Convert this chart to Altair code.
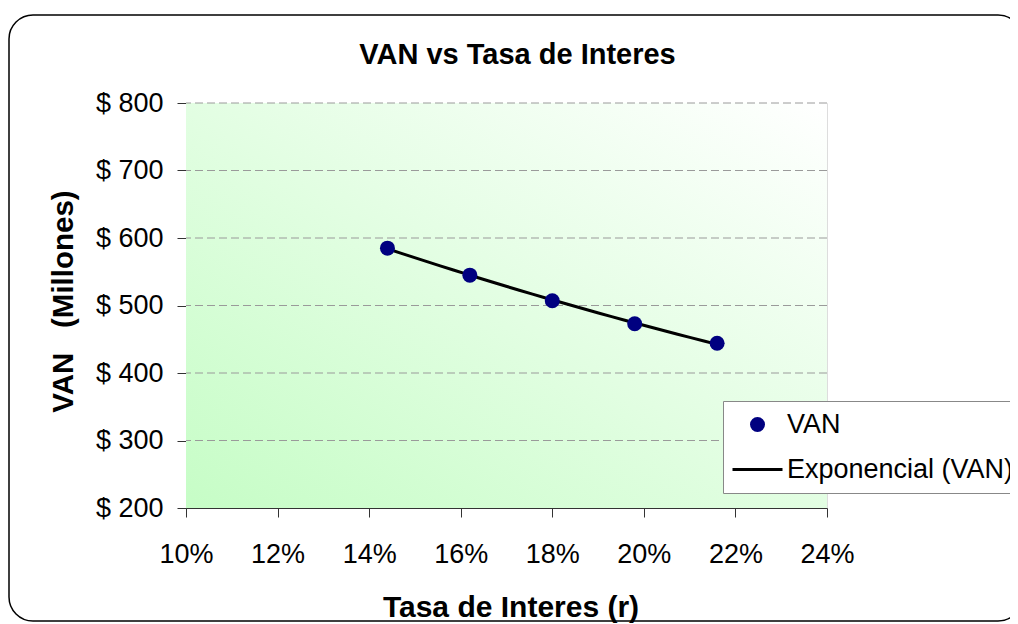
import altair as alt
import pandas as pd

# ---- data ----
tasa = [0.144, 0.162, 0.180, 0.198, 0.216]
van = [585, 545, 507, 473, 444]
x_ticks = [0.10, 0.12, 0.14, 0.16, 0.18, 0.20, 0.22, 0.24]
y_ticks = [200, 300, 400, 500, 600, 700, 800]
grid_vals = [300, 400, 500, 600, 700, 800]
series = ["VAN", "Exponencial (VAN)"]

W, H = 641, 405
FONT = "Liberation Sans"
NB = "\u00a0"

df = pd.DataFrame({"tasa": tasa, "van": van, "serie": [series[0]] * len(tasa)})
grid_df = pd.DataFrame({"v": grid_vals})
one = pd.DataFrame({"k": [0]})

xs = alt.Scale(domain=[0.10, 0.24], nice=False, zero=False)
ys = alt.Scale(domain=[200, 800], nice=False, zero=False)

x_axis = alt.Axis(
    values=x_ticks, format=".0%", labelFontSize=27, labelFont=FONT, labelColor="black",
    labelPadding=24, tickSize=9, tickColor="#333333", domainColor="#333333",
    labelFlush=False, labelOverlap=False, grid=False,
    title="Tasa de Interes (r)", titleFontSize=30, titleFont=FONT, titleFontWeight="bold",
    titleColor="black", titleBaseline="alphabetic", titleY=108, titleX=W / 2 + 4,
)
y_axis = alt.Axis(
    values=y_ticks, labelExpr="'$ ' + datum.value", labelFontSize=27, labelFont=FONT,
    labelColor="black", labelPadding=14, tickSize=9, tickColor="#333333",
    domainColor="#333333", grid=False, labelOverlap=False,
    title="VAN" + NB * 3 + "(Millones)", titleFontSize=29.5, titleFont=FONT,
    titleFontWeight="bold", titleColor="black", titleAngle=270,
    titleBaseline="alphabetic", titleX=-114, titleY=198,
)

legend = alt.Legend(
    title=None, orient="none", legendX=537, legendY=298, fillColor="white",
    strokeColor="#888888", padding=10, labelFontSize=27, labelFont=FONT, labelColor="black",
    labelLimit=500, symbolOffset=-2, labelOffset=3, rowPadding=5, symbolStrokeWidth=3,
)

fill_sc = alt.Scale(domain=series, range=["#000080", "transparent"])
stroke_sc = alt.Scale(domain=series, range=["transparent", "black"])
shape_sc = alt.Scale(domain=series, range=["circle", "stroke"])
size_sc = alt.Scale(type="ordinal", domain=series, range=[225, 2500])

frame = alt.Chart(one).mark_rect(
    fill="white", fillOpacity=0, stroke="black", strokeWidth=1.5, cornerRadius=24
).encode(x=alt.value(-177), x2=alt.value(836), y=alt.value(-88), y2=alt.value(518))

bg = alt.Chart(one).mark_rect(
    color=alt.Gradient(
        gradient="linear",
        stops=[alt.GradientStop(color="#c6fdc6", offset=0), alt.GradientStop(color="#ffffff", offset=1)],
        x1=0, y1=1, x2=1, y2=0,
    )
).encode(x=alt.value(0), x2=alt.value(W), y=alt.value(0), y2=alt.value(H))

grid = alt.Chart(grid_df).mark_rule(
    color="#9a9a9a", strokeWidth=1, strokeDash=[8, 4]
).encode(y=alt.Y("v:Q", scale=ys, axis=y_axis))

trend = alt.Chart(df).transform_regression(
    "tasa", "van", method="exp"
).transform_calculate(
    serie="'Exponencial (VAN)'"
).mark_line(strokeWidth=3).encode(
    x=alt.X("tasa:Q", scale=xs, axis=x_axis),
    y=alt.Y("van:Q", scale=ys, axis=y_axis),
    stroke=alt.Stroke("serie:N", scale=stroke_sc, legend=legend),
)

pts = alt.Chart(df).mark_point(filled=True, opacity=1).encode(
    x=alt.X("tasa:Q", scale=xs, axis=x_axis),
    y=alt.Y("van:Q", scale=ys, axis=y_axis),
    fill=alt.Fill("serie:N", scale=fill_sc, legend=legend),
    shape=alt.Shape("serie:N", scale=shape_sc, legend=legend),
    size=alt.Size("serie:N", scale=size_sc, legend=legend),
)

chart = alt.layer(frame, bg, grid, trend, pts).properties(
    width=W,
    height=H,
    title=alt.TitleParams(
        "VAN vs Tasa de Interes", fontSize=29, font=FONT, fontWeight="bold", color="black",
        anchor="middle", dx=11, dy=79, baseline="alphabetic", offset=0,
    ),
    autosize=alt.AutoSizeParams(type="none"),
    padding={"left": 178, "top": 95, "right": 183, "bottom": 116},
).configure_view(stroke=None).configure(background="white")

chart.save("out.html", embed_options={"renderer": "svg", "actions": False})
